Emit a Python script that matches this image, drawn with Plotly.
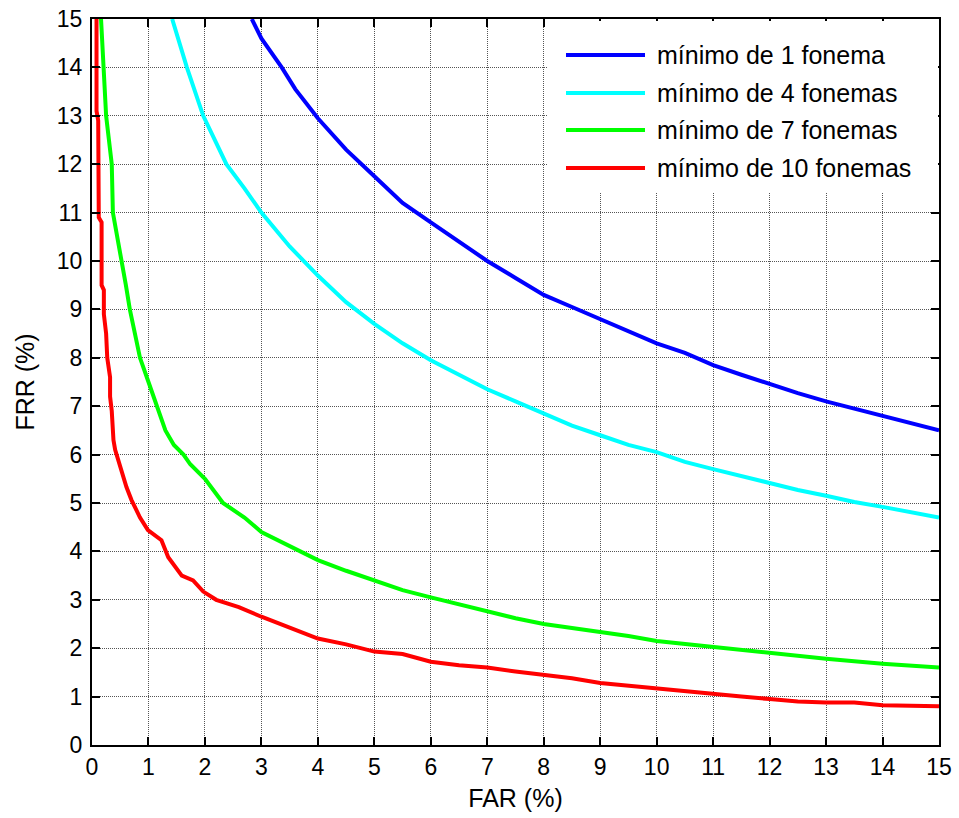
import plotly.graph_objects as go

# ---- data ----
series_names = ["mínimo de 1 fonema", "mínimo de 4 fonemas", "mínimo de 7 fonemas", "mínimo de 10 fonemas"]
series_colors = ["#0000FF", "#00FFFF", "#00FF00", "#FF0000"]

far_1 = [2.83, 3.0, 3.36, 3.6, 4.0, 4.5, 5.0, 5.5, 6.0, 6.5, 7.0, 7.5, 8.0, 8.5, 9.0, 9.5, 10.0,
         10.5, 11.0, 11.5, 12.0, 12.5, 13.0, 13.5, 14.0, 14.5, 15.0]
frr_1 = [15.0, 14.6, 14.0, 13.55, 12.95, 12.3, 11.75, 11.2, 10.8, 10.4, 10.0, 9.65, 9.3, 9.05, 8.8,
         8.55, 8.3, 8.1, 7.85, 7.65, 7.45, 7.27, 7.1, 6.95, 6.8, 6.65, 6.5]

far_4 = [1.42, 1.68, 1.97, 2.38, 2.7, 3.0, 3.5, 4.0, 4.5, 5.0, 5.5, 6.0, 6.5, 7.0, 7.5, 8.0, 8.5,
         9.0, 9.5, 10.0, 10.5, 11.0, 11.5, 12.0, 12.5, 13.0, 13.5, 14.0, 14.5, 15.0]
frr_4 = [15.0, 14.0, 13.0, 12.0, 11.5, 11.0, 10.3, 9.7, 9.15, 8.7, 8.3, 7.95, 7.65, 7.35, 7.1, 6.85,
         6.6, 6.4, 6.2, 6.05, 5.85, 5.7, 5.55, 5.4, 5.27, 5.15, 5.02, 4.92, 4.8, 4.7]

far_7 = [0.16, 0.2, 0.25, 0.3, 0.35, 0.37, 0.45, 0.53, 0.6, 0.67, 0.76, 0.85, 1.0, 1.15, 1.3, 1.45,
         1.62, 1.74, 2.0, 2.32, 2.7, 3.0, 3.5, 4.0, 4.5, 5.0, 5.5, 6.0, 6.5, 7.0, 7.5, 8.0, 8.5, 9.0,
         9.5, 10.0, 11.0, 12.0, 13.0, 14.0, 15.0]
frr_7 = [15.0, 14.0, 13.0, 12.5, 12.0, 11.0, 10.5, 10.0, 9.5, 9.0, 8.5, 8.0, 7.5, 7.0, 6.5, 6.2,
         6.0, 5.8, 5.5, 5.0, 4.7, 4.4, 4.1, 3.82, 3.6, 3.4, 3.2, 3.05, 2.9, 2.75, 2.62, 2.5, 2.42,
         2.33, 2.25, 2.15, 2.02, 1.9, 1.78, 1.68, 1.6]

far_10 = [0.08, 0.08, 0.11, 0.12, 0.12, 0.17, 0.17, 0.21, 0.21, 0.25, 0.27, 0.32, 0.32, 0.35, 0.38,
          0.41, 0.5, 0.61, 0.7, 0.85, 0.99, 1.1, 1.23, 1.35, 1.59, 1.79, 1.97, 2.2, 2.5, 2.6, 3.0,
          3.5, 4.0, 4.5, 5.0, 5.5, 6.0, 6.5, 7.0, 7.5, 8.0, 8.5, 9.0, 9.5, 10.0, 10.5, 11.0, 11.5,
          12.0, 12.5, 13.0, 13.5, 14.0, 14.5, 15.0]
frr_10 = [15.0, 13.1, 12.9, 12.0, 10.9, 10.8, 9.5, 9.4, 8.9, 8.5, 8.0, 7.6, 7.2, 6.9, 6.3,
          6.1, 5.75, 5.33, 5.06, 4.7, 4.44, 4.35, 4.23, 3.88, 3.5, 3.4, 3.17, 3.0, 2.9, 2.85, 2.65,
          2.42, 2.2, 2.08, 1.93, 1.88, 1.72, 1.65, 1.6, 1.52, 1.45, 1.38, 1.28, 1.22, 1.16, 1.1,
          1.05, 1.0, 0.95, 0.9, 0.88, 0.88, 0.82, 0.8, 0.8]

tick_vals = list(range(0, 16))

# ---- layout constants (pixels; the page body margin is removed below) ----
W, H = 959, 818
ML, MR, MT, MB = 92, 20, 19, 73
PW, PH = W - ML - MR, H - MT - MB
font_family = "Liberation Sans, Arial, Helvetica, sans-serif"
LINE_W = 4

fig = go.Figure()
for i, (xs, ys) in enumerate([(far_1, frr_1), (far_4, frr_4), (far_7, frr_7), (far_10, frr_10)]):
    fig.add_trace(go.Scatter(
        x=xs, y=ys, mode="lines", name=series_names[i], showlegend=False,
        line=dict(color=series_colors[i], width=LINE_W),
    ))

axis_common = dict(
    range=[0, 15], tickvals=tick_vals, ticktext=[str(v) for v in tick_vals],
    showgrid=True, gridcolor="#555555", griddash="1px,1px", gridwidth=1,
    showline=True, linecolor="black", linewidth=2, mirror="ticks",
    ticks="inside", ticklen=8, tickcolor="black", tickwidth=1.5,
    zeroline=False, automargin=False, ticklabeloverflow="allow",
    tickfont=dict(size=23, color="black", family=font_family),
)

fig.update_layout(
    width=W, height=H,
    margin=dict(l=ML, r=MR, t=MT, b=MB),
    paper_bgcolor="white", plot_bgcolor="white",
    font=dict(family=font_family, color="black"),
    xaxis=dict(**axis_common, title=dict(text="FAR (%)", font=dict(size=25), standoff=11)),
    yaxis=dict(**axis_common, ticklabelstandoff=3,
               title=dict(text="FRR (%)", font=dict(size=25), standoff=15)),
    showlegend=False,
)

# ---- hand-drawn legend box (MATLAB style, no border) ----
def px_x(p):
    return (p - ML) / PW

def px_y(p):
    return (H - MB - p) / PH

leg_left, leg_bottom = 548, 192
row_y = [55, 93, 130, 168]
line_x0, line_x1, text_x = 566, 645, 655

fig.add_shape(type="rect", xref="paper", yref="paper",
              x0=px_x(leg_left), x1=px_x(938), y0=px_y(leg_bottom), y1=px_y(21),
              fillcolor="white", line=dict(width=0), layer="above")
for i, name in enumerate(series_names):
    yy = px_y(row_y[i])
    fig.add_shape(type="line", xref="paper", yref="paper",
                  x0=px_x(line_x0), x1=px_x(line_x1), y0=yy, y1=yy,
                  line=dict(color=series_colors[i], width=LINE_W), layer="above")
    fig.add_annotation(xref="paper", yref="paper", x=px_x(text_x), y=yy,
                       xanchor="left", yanchor="middle", text=name, showarrow=False,
                       font=dict(size=25, color="black", family=font_family))

fig.write_html("out.html",
               config={"displayModeBar": False},
               post_script="document.body.style.margin='0';document.body.style.overflow='hidden';")
